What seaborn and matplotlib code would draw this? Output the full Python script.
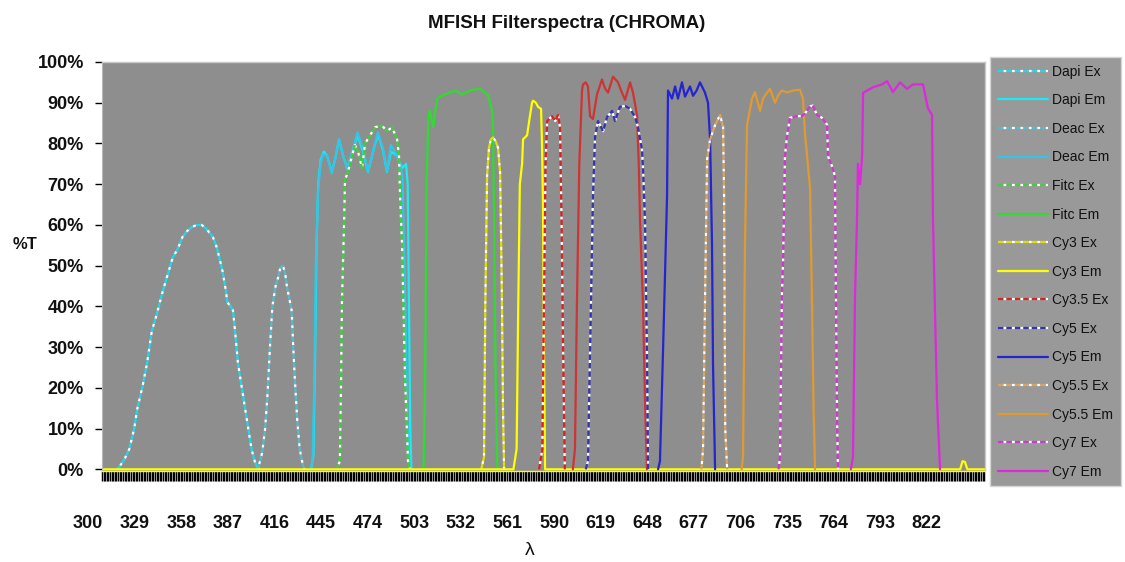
import matplotlib
matplotlib.use("Agg")
import matplotlib.pyplot as plt
import matplotlib.transforms as mtransforms
from matplotlib.ticker import FixedLocator, MultipleLocator
import pandas as pd
import seaborn as sns

sns.set_style("white")
plt.rcParams["font.family"] = ["Liberation Sans", "DejaVu Sans"]

# ---------------- data (wavelength nm, transmission %) ----------------
dapi_ex_nm = [309, 310.6, 314, 317, 320, 322, 325, 328, 331, 334, 338, 341, 344, 347, 350, 353, 356, 359,
              362, 365, 367, 369, 371, 373, 375, 377, 378, 380, 381.5, 383, 384.6, 387, 389, 391, 393, 395, 396.5, 398]
dapi_ex_t = [0, 0.5, 2.5, 5, 10, 15, 20, 26, 34, 38, 44, 48, 52, 54, 57, 58.5, 59.5, 60,
             60, 59, 58, 57, 55, 52, 48.6, 44, 41, 40, 39, 33, 26, 20, 15, 10, 5, 2, 0.5, 0]

dapi_em_nm = [430, 431.5, 432.5, 433.5, 434.5, 436, 438, 440, 443, 445, 447.5, 450, 452.5, 456, 459, 462.4,
              465.5, 468, 470, 472, 475, 477.3, 479.8, 483.6, 485.4, 487, 489.2, 490.2, 491, 491.8, 492.5]
dapi_em_t = [0, 3, 25, 55, 70, 76, 78, 77, 73, 76, 81, 77, 74, 78, 82, 78,
             73, 77, 80, 82, 78, 73, 78, 77, 75, 74, 75, 70, 40, 10, 0]

deac_ex_nm = [397, 399.6, 401.5, 403, 404.5, 406, 408, 409.5, 411, 412.6, 414, 415, 416.5, 418, 419, 420,
              421.5, 423, 425, 426]
deac_ex_t = [0, 4, 10, 18.6, 30, 40, 45, 47, 49.5, 50, 48, 45, 42, 39, 30, 22, 12, 5, 1, 0]

deac_em_nm = [429.5, 431, 432, 433, 434.4, 436, 437.5, 440, 443, 445, 447.5, 450, 452.5, 456, 459, 462.4,
              465.5, 468, 470, 471.7, 474.9, 477.3, 479.8, 483.6, 485.4, 487, 488.5, 490, 491.5]
deac_em_t = [0, 2, 20, 50, 68, 75, 77.3, 77, 72.7, 76, 81, 77, 73.7, 78.5, 82.7, 78.7,
             73.2, 77, 80.3, 82.7, 78.7, 73.2, 79.6, 77, 74.9, 72, 45, 12, 0]

fitc_ex_nm = [446, 448, 448.7, 449.3, 450.6, 451.2, 453, 455.6, 457.4, 459.3, 461.8, 463.7, 466.8, 469.9,
              474.2, 477.3, 480.5, 483.6, 484.8, 485.4, 486.7, 488.5, 490.4, 491.7]
fitc_ex_t = [0, 2, 20, 41, 60, 71, 73, 77, 79.6, 78, 74, 80, 82, 84,
             84.4, 83, 84, 81, 77, 68, 55, 23, 2, 0]

fitc_em_nm = [500, 501, 502, 503, 504, 506, 508.5, 513, 520, 524, 529, 535, 540, 541.5, 542.7, 543.3,
              544, 545, 546]
fitc_em_t = [0, 20, 70, 86, 88, 84, 91, 92, 93, 92, 93, 93.5, 92, 89.8, 88, 84, 60, 20, 0]

cy3_ex_nm = [536, 537.7, 538.5, 539.6, 540.8, 542, 543.3, 545, 546.4, 547.7, 548.4, 548.9, 549.5, 550.2]
cy3_ex_t = [0, 3, 40, 72, 79, 81, 81.5, 80.5, 79, 73, 55, 40, 15, 0]

cy3_em_nm = [300, 556, 558, 559, 560, 561.4, 562, 564.5, 566, 567.6, 568.2, 570, 571.3, 573.2, 573.8,
             574.4, 575, 575.7, 834, 835.5, 837, 838.5, 849.5]
cy3_em_t = [0, 0, 5, 40, 70, 75, 81, 82, 86, 90, 90.5, 90, 89, 88.5, 80,
            65, 30, 0, 0, 2, 1.8, 0, 0]

cy35_ex_nm = [572, 574, 575, 576, 577, 580, 582, 583.8, 585, 586, 586.9, 588]
cy35_ex_t = [0, 5, 40, 75, 85.5, 86.7, 85.5, 87, 84, 60, 30, 0]

cy35_em_nm = [593, 594.3, 595.5, 597, 598.7, 599.3, 601, 602.4, 603.7, 605.5, 608, 611.1, 613, 614.9,
              618, 621.1, 623, 625.5, 628.6, 630.4, 632.9, 634, 634.8, 636.6, 638, 639.1]
cy35_em_t = [0, 5, 40, 75, 93, 94.5, 95, 94, 86.7, 86, 92, 95.7, 93.5, 92.5,
             96.4, 95, 93, 90.7, 95, 92.5, 87, 75, 61, 41, 15, 0]

cy5_ex_nm = [601, 602.4, 603.7, 605.5, 606.8, 608.6, 611.8, 614.3, 617.4, 619.2, 622.3, 625.5, 628.6,
             631.7, 633.5, 636, 636.6, 637.9, 639.1, 639.8]
cy5_ex_t = [0, 2, 29, 67, 81.5, 85.5, 83, 86.5, 88, 85.5, 89, 89.2, 88.5,
            86.5, 84, 78.5, 74.4, 61, 29, 0]

cy5_em_nm = [646, 647.2, 649.1, 651.6, 652.2, 654.7, 656.6, 658.4, 660.9, 662.8, 665.9, 667.8, 670,
             672.1, 675.2, 677.1, 678.4, 679.6, 680.2, 681.5]
cy5_em_t = [0, 2, 29, 67, 93, 91, 94, 91, 95, 91.5, 94, 91.7, 93,
            95, 92.5, 90, 81, 55, 26, 0]

cy55_ex_nm = [673, 674, 675, 676.5, 678.4, 681.5, 684.6, 686.5, 687.1, 687.8, 689]
cy55_ex_t = [0, 5, 35, 76, 81, 84.5, 87, 84, 67, 10, 0]

cy55_em_nm = [698, 698.9, 700.1, 701.4, 704.5, 706.3, 709.5, 711.3, 713, 715.7, 718.8, 721, 723.1, 726.3,
              730, 734.3, 736.2, 737.5, 738.8, 740.6, 741.8, 742.8, 743.7]
cy55_em_t = [0, 3, 55, 84.6, 91, 92.6, 88, 91, 92, 93.4, 90, 92, 93, 92.5,
             93, 93.2, 91, 82, 76.8, 69, 41, 15, 0]

cy7_ex_nm = [721, 721.9, 723.1, 723.8, 725, 726.3, 728.1, 732.5, 735.6, 737.5, 740.6, 742.4, 744.9, 748,
             751.2, 751.8, 754.3, 756.1, 756.7, 757.5, 758]
cy7_ex_t = [0, 3, 43, 51, 77, 82, 86.3, 86.7, 86.7, 87.4, 89.1, 89.3, 87, 86.3,
            84.6, 76.8, 74.4, 72, 43, 10, 0]

cy7_em_nm = [766, 767.3, 768.6, 769.8, 770.4, 771.7, 773, 773.6, 776.1, 779.8, 785.4, 788.5, 792.2, 796.6,
             800.9, 804.7, 810.9, 814, 816.5, 817.1, 819.6, 821.5]
cy7_em_t = [0, 3, 43, 61, 75, 70, 77, 92.4, 93, 93.8, 94.5, 95.3, 92.6, 95,
            93.4, 94.5, 94.5, 88.6, 87, 61, 17, 0]

x_tick_values = [300, 329, 358, 387, 416, 445, 474, 503, 532, 561, 590, 619, 648, 677, 706, 735, 764, 793, 822]
x_tick_labels = [str(v) for v in x_tick_values]
y_tick_values = [0, 10, 20, 30, 40, 50, 60, 70, 80, 90, 100]
y_tick_labels = [f"{v}%" for v in y_tick_values]

# (label, nm, t, color, dashed)
series = [
    ("Dapi Ex", dapi_ex_nm, dapi_ex_t, "#1fd8ec", True),
    ("Dapi Em", dapi_em_nm, dapi_em_t, "#19ecf5", False),
    ("Deac Ex", deac_ex_nm, deac_ex_t, "#5ab8cc", True),
    ("Deac Em", deac_em_nm, deac_em_t, "#35c4e6", False),
    ("Fitc Ex", fitc_ex_nm, fitc_ex_t, "#3fcf3f", True),
    ("Fitc Em", fitc_em_nm, fitc_em_t, "#2fdc2f", False),
    ("Cy3 Ex", cy3_ex_nm, cy3_ex_t, "#e3e000", True),
    ("Cy3 Em", cy3_em_nm, cy3_em_t, "#ffff00", False),
    ("Cy3.5 Ex", cy35_ex_nm, cy35_ex_t, "#d92222", True),
    ("_Cy3.5 Em", cy35_em_nm, cy35_em_t, "#cf3434", False),
    ("Cy5 Ex", cy5_ex_nm, cy5_ex_t, "#3535b0", True),
    ("Cy5 Em", cy5_em_nm, cy5_em_t, "#2424d0", False),
    ("Cy5.5 Ex", cy55_ex_nm, cy55_ex_t, "#d9a463", True),
    ("Cy5.5 Em", cy55_em_nm, cy55_em_t, "#e09a30", False),
    ("Cy7 Ex", cy7_ex_nm, cy7_ex_t, "#cc3acc", True),
    ("Cy7 Em", cy7_em_nm, cy7_em_t, "#dd28dd", False),
]

fig = plt.figure(figsize=(11.25, 5.62), dpi=100)
ax = fig.add_axes([0.0907, 0.162, 0.7849, 0.7277])
ax.set_facecolor("#8e8e8e")

handles = []
for label, nm, t, color, dashed in series:
    df = pd.DataFrame({"nm": nm, "t": t})
    n_before = len(ax.lines)
    if dashed:
        sns.lineplot(data=df, x="nm", y="t", ax=ax, color=color, lw=1.6,
                     linestyle=(0, (2.4, 1.4)), gapcolor="white", label=label, legend=False)
    else:
        sns.lineplot(data=df, x="nm", y="t", ax=ax, color=color, lw=1.6,
                     linestyle="-", label=label, legend=False)
    line = ax.lines[n_before]
    if not label.startswith("_"):
        handles.append(line)

ax.set_xlim(300, 849.5)
ax.set_ylim(-0.4, 100)

# axes ticks
ax.xaxis.set_major_locator(FixedLocator(x_tick_values))
ax.set_xticklabels(x_tick_labels)
ax.xaxis.set_minor_locator(MultipleLocator(1))
ax.tick_params(axis="x", which="both", direction="out", length=7.5, width=1.05, color="black",
               bottom=True)
ax.tick_params(axis="x", which="major", pad=24, labelsize=13)
for lab in ax.get_xticklabels():
    lab.set_fontweight("bold")
    lab.set_color("#111111")
    lab.set_transform(lab.get_transform() + mtransforms.ScaledTranslation(-0.14, 0, fig.dpi_scale_trans))

ax.set_yticks(y_tick_values)
ax.set_yticklabels(y_tick_labels)
ax.tick_params(axis="y", which="major", direction="out", length=5, width=1, color="black",
               left=True, pad=8, labelsize=13)
for lab in ax.get_yticklabels():
    lab.set_fontweight("bold")
    lab.set_color("#111111")

for side in ["top", "right"]:
    ax.spines[side].set_color("#c8c8c8")
    ax.spines[side].set_linewidth(1)
ax.spines["left"].set_color("#b8b8b8")
ax.spines["bottom"].set_color("#ffff00")
ax.spines["bottom"].set_linewidth(1)

ax.set_xlabel("")
ax.set_ylabel("")
fig.text(0.022, 0.565, "%T", fontsize=12, fontweight="bold", ha="center", va="center", color="#111111")
fig.text(0.471, 0.02, "λ", fontsize=14, ha="center", va="center", color="#111111")
fig.text(0.504, 0.958, "MFISH Filterspectra (CHROMA)", fontsize=13.5, fontweight="bold",
         ha="center", va="center", color="#111111")

leg = fig.legend(handles=handles, labels=[h.get_label() for h in handles],
                 loc="upper left", bbox_to_anchor=(0.88, 0.8986), borderaxespad=0,
                 fontsize=10, labelspacing=1.05, handlelength=3.6, handletextpad=0.35,
                 borderpad=0.55, frameon=True, fancybox=False, framealpha=1)
leg.get_frame().set_facecolor("#999999")
leg.get_frame().set_edgecolor("#d4d4d4")
leg.get_frame().set_linewidth(1)
for txt in leg.get_texts():
    txt.set_color("#111111")

fig.savefig("out.png", dpi=100, facecolor="white")
